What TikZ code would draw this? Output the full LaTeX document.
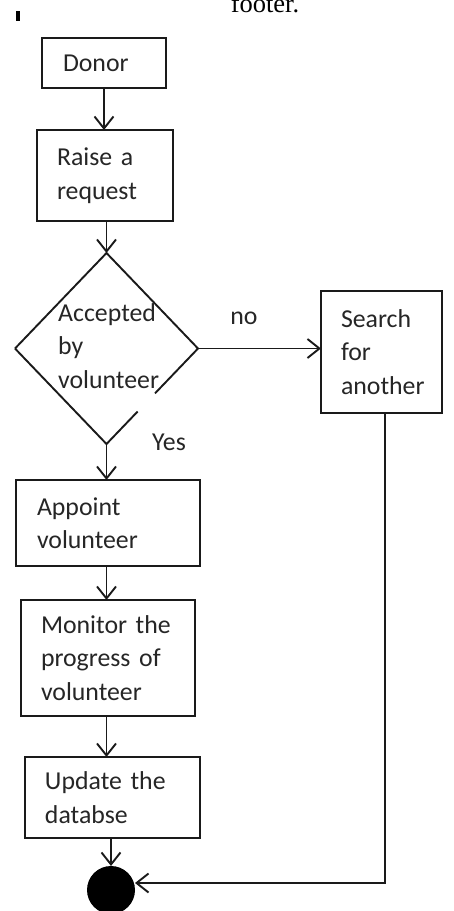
\documentclass[tikz,border=0pt]{standalone}
\usepackage{fontspec}
\setmainfont{Carlito}
\newfontfamily\seriffont{Liberation Serif}
\usetikzlibrary{arrows.meta,shapes.geometric,calc}
\definecolor{ink}{HTML}{1A1A1A}
\definecolor{txt}{HTML}{262626}
\tikzset{
  fnt/.style={font=\fontsize{25.8pt}{33.5pt}\selectfont, text=txt},
  box/.style={fnt, draw=ink, line width=1.9pt, rectangle, anchor=north west,
    align=left, inner ysep=0pt, outer sep=0pt},
  lbl/.style={fnt, inner sep=0pt},
  conn/.style={draw=ink, line width=1.9pt, -{Straight Barb[length=12pt,width=19pt]}},
  plain/.style={draw=ink, line width=1.9pt},
}
\begin{document}
\begin{tikzpicture}[x=1pt,y=-1pt]
\useasboundingbox (0,0) rectangle (454,911);
\clip (0,0) rectangle (454,911);
\fill[white] (0,0) rectangle (454,911);

% clipped header text
\node[font=\seriffont\fontsize{26.5pt}{30pt}\selectfont, anchor=base, inner sep=0pt] (footer) at (265,12) {footer.};
\fill[black] (16,11) rectangle (20,21);

% boxes
\node[box, minimum width=124pt, minimum height=50pt, inner xsep=21pt, text width=82pt] (donor) at (42,38) {Donor};
\node[box, minimum width=136pt, minimum height=91pt, inner xsep=20pt, text width=96pt] (raise) at (37,130) {Raise a\\request};
\node[diamond, minimum width=183pt, minimum height=191pt, inner sep=0pt, outer sep=0pt] (dec) at (106.5,348.5) {};
\node[lbl, align=left, anchor=west] (dtext) at (58,346) {Accepted\\by\\volunteer};
\node[box, minimum width=121pt, minimum height=122pt, inner xsep=20pt, text width=81pt] (search) at (321,291) {Search\\for\\another};
\node[box, minimum width=184pt, minimum height=86pt, inner xsep=21pt, text width=142pt] (appoint) at (16,480) {Appoint\\volunteer};
\node[box, minimum width=174pt, minimum height=116pt, inner xsep=20pt, text width=134pt] (monitor) at (21,600) {Monitor the\\progress of\\volunteer};
\node[box, minimum width=175pt, minimum height=81pt, inner xsep=20pt, text width=135pt] (update) at (25,757) {Update the\\databse};
\node[circle, fill=black, minimum size=48pt, inner sep=0pt, outer sep=0pt] (endc) at (111,890) {};

% diamond outline (with the small break near the text)
\draw[plain, line join=miter] (dec.west) -- (dec.north) -- (dec.east) -- ($(dec.east)!0.47!(dec.south)$);
\draw[plain, line join=miter] ($(dec.east)!0.66!(dec.south)$) -- (dec.south) -- (dec.west);

% labels
\node[lbl] (no) at (244,318) {no};
\node[lbl] (yes) at (169,442) {Yes};

% connectors
\draw[conn] (donor.south) -- (donor.south |- raise.north);
\draw[conn] (dec.north |- raise.south) -- (dec.north);
\draw[conn] (dec.east) -- (dec.east -| search.west);
\draw[conn] (dec.south) -- (dec.south |- appoint.north);
\draw[conn] (dec.south |- appoint.south) -- (dec.south |- monitor.north);
\draw[conn] (dec.south |- monitor.south) -- (dec.south |- update.north);
\draw[conn] (endc.north |- update.south) -- (endc.north);
\coordinate (corner) at (385,883);
\draw[conn] (search.south -| corner) -- (corner) -- (corner -| endc.east);
\end{tikzpicture}
\end{document}
